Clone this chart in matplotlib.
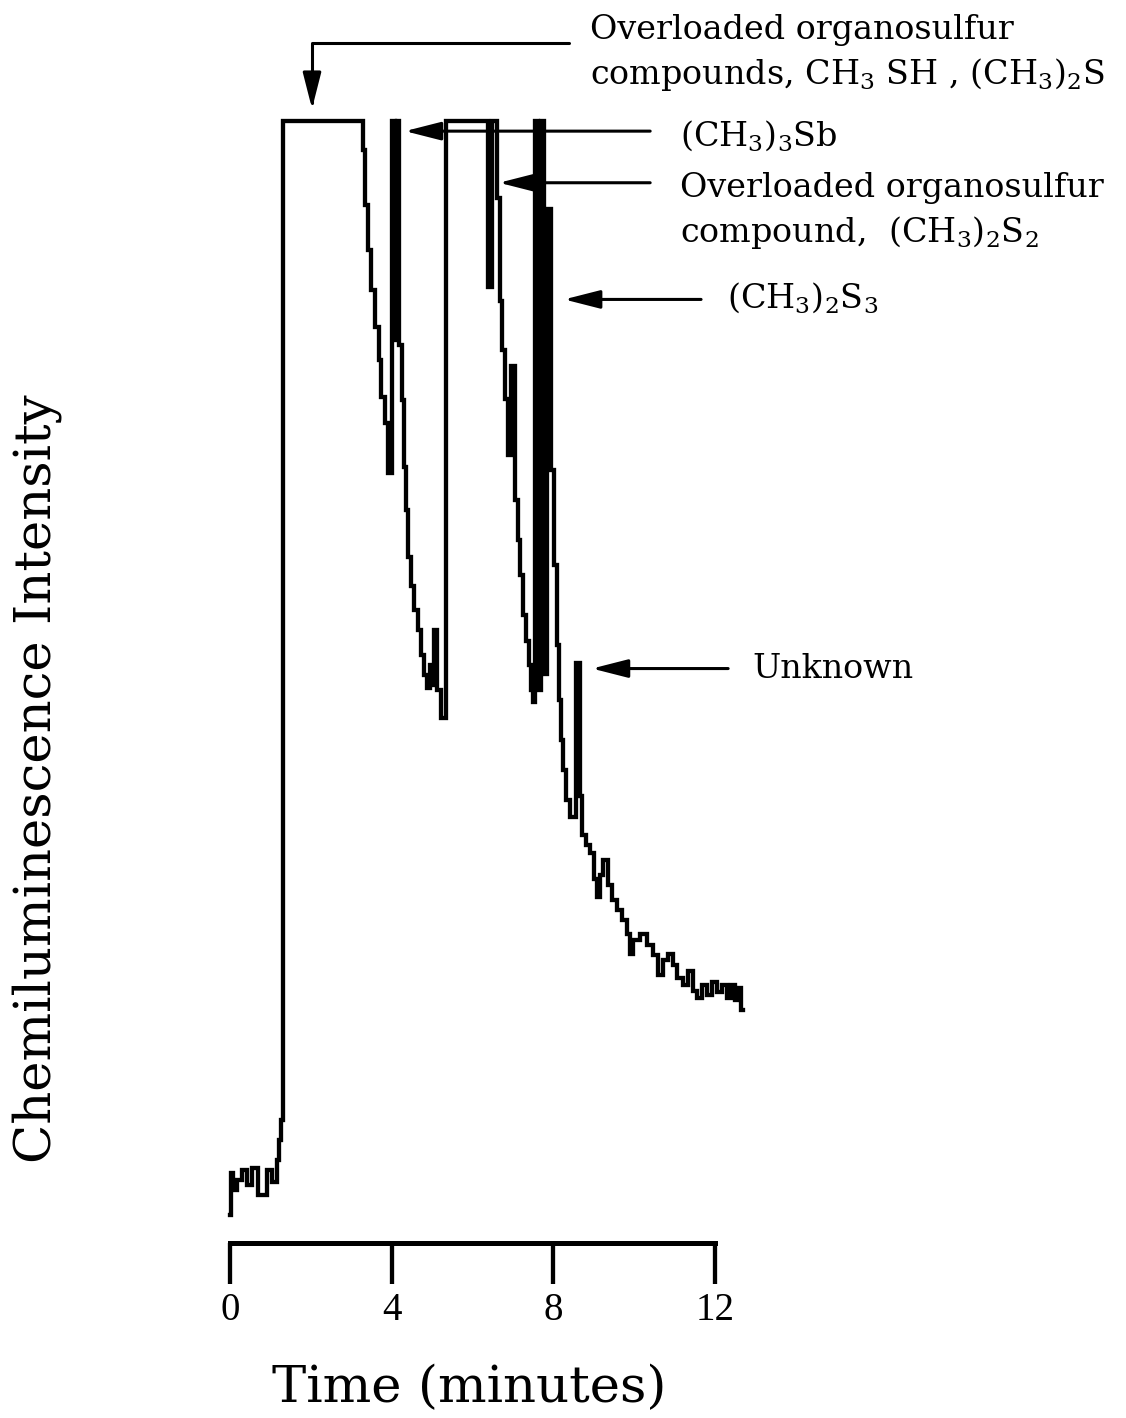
import matplotlib
matplotlib.use("Agg")
import matplotlib.pyplot as plt

plt.rcParams['font.family'] = ['DejaVu Serif']
plt.rcParams['mathtext.fontset'] = 'dejavuserif'

# recorder trace, drawn as steps (time in minutes, % of full scale)
time_min = [
    0.00, 0.02, 0.07, 0.17, 0.30, 0.42, 0.55, 0.69, 0.92, 1.04, 1.16, 1.21, 1.26, 1.31,
    3.29, 3.34, 3.42, 3.49, 3.59, 3.69, 3.74, 3.84, 3.91,
    4.01, 4.08, 4.13, 4.18, 4.26, 4.31, 4.36, 4.41, 4.48, 4.55, 4.65, 4.73, 4.80, 4.88,
    4.95, 5.00, 5.05, 5.12, 5.22,
    5.35, 6.39, 6.49, 6.61, 6.68, 6.73, 6.81, 6.88, 6.96, 7.05, 7.13, 7.18, 7.25, 7.33,
    7.40, 7.45, 7.50,
    7.55, 7.62, 7.70, 7.77, 7.85, 7.95, 8.02, 8.09, 8.14, 8.19, 8.24, 8.32, 8.42,
    8.56, 8.66, 8.71, 8.81, 8.91, 9.01, 9.08, 9.16, 9.23, 9.36, 9.46, 9.58, 9.70, 9.83,
    9.90, 9.98,
    10.15, 10.32, 10.47, 10.59, 10.72, 10.84, 10.97, 11.06, 11.21, 11.34, 11.46, 11.56,
    11.68, 11.81, 11.93,
    12.05, 12.18, 12.30, 12.40, 12.50, 12.60, 12.65, 12.70,
]
intensity = [
    2.5, 6.2, 4.7, 5.6, 6.5, 5.2, 6.7, 4.3, 6.5, 5.4, 7.4, 9.2, 11.0, 100.0,
    97.4, 92.5, 88.5, 84.9, 81.6, 78.7, 75.4, 73.1, 68.6,
    100.0, 80.5, 100.0, 80.0, 75.1, 69.2, 65.3, 61.1, 58.6, 56.4, 54.6, 52.4, 50.6, 49.5,
    51.5, 49.7, 54.6, 49.3, 46.8,
    100.0, 85.2, 100.0, 93.1, 84.0, 79.6, 75.2, 70.2, 78.2, 66.2, 62.7, 59.5, 56.0, 53.7,
    51.5, 49.3, 48.2,
    100.0, 49.3, 100.0, 50.7, 92.2, 68.9, 60.4, 53.3, 48.4, 44.8, 42.2, 39.5, 38.0,
    51.7, 39.8, 36.4, 35.5, 34.8, 32.4, 30.8, 32.8, 34.1, 31.9, 30.6, 29.7, 28.8, 27.5,
    25.8, 27.0,
    27.5, 26.6, 25.7, 23.9, 25.2, 25.8, 24.8, 23.6, 23.0, 24.2, 22.5, 21.8,
    23.0, 22.1, 23.3,
    22.4, 23.0, 21.8, 23.0, 21.7, 22.7, 20.8, 20.8,
]

x_ticks = [0, 4, 8, 12]

# peak labels: arrow tip, arrow tail, text lines (left, baseline)
peak_text = [
    ['(CH$_3$)$_3$Sb'],
    ['Overloaded organosulfur', 'compound,  (CH$_3$)$_2$S$_2$'],
    ['(CH$_3$)$_2$S$_3$'],
    ['Unknown'],
]
arrow_tip = [(4.33, 99.1), (6.66, 94.5), (8.27, 84.1), (8.96, 51.2)]
arrow_tail = [(10.40, 99.1), (10.40, 94.5), (11.66, 84.1), (12.33, 51.2)]
text_pos = [(11.14, [97.8]), (11.14, [93.2, 89.2]), (12.30, [83.4]), (12.92, [50.4])]

top_text = ['Overloaded organosulfur', 'compounds, CH$_3$ SH , (CH$_3$)$_2$S']
top_text_pos = (8.91, [107.3, 103.3])
top_tip = (2.03, 101.1)
top_tail = (8.39, 107.0)

fig = plt.figure(figsize=(11.26, 14.18), dpi=100)
ax = fig.add_axes([209.8 / 1126, 175 / 1418, 545.4 / 1126, 1144.4 / 1418])
ax.set_xlim(-0.5, 13.0)
ax.set_ylim(0, 102)
ax.patch.set_visible(False)

ax.plot(time_min, intensity, drawstyle='steps-post', color='black', lw=3.1,
        solid_joinstyle='miter')

for side in ['top', 'right', 'left']:
    ax.spines[side].set_visible(False)
ax.spines['bottom'].set_bounds(0, 12)
ax.spines['bottom'].set_linewidth(3.6)
ax.set_xticks(x_ticks)
ax.set_xticklabels([str(t) for t in x_ticks])
ax.set_yticks([])
ax.tick_params(axis='x', direction='out', length=29.5, width=3.1, pad=6, labelsize=28)
for lbl in ax.get_xticklabels():
    lbl.set_family('Liberation Serif')

ax.set_xlabel('Time (minutes)', fontsize=37, va='center')
ax.xaxis.set_label_coords(0.475, -0.127)
ax.set_ylabel('Chemiluminescence Intensity', fontsize=37, va='center')
ax.yaxis.set_label_coords(-0.317, 0.406)

arrow_style = dict(arrowstyle='-|>,head_length=0.55,head_width=0.14', mutation_scale=40,
                   lw=2.2, color='black', shrinkA=0, shrinkB=0)

ax.annotate('', xy=top_tip, xytext=top_tail, annotation_clip=False,
            arrowprops=dict(arrow_style, connectionstyle='angle,angleA=0,angleB=90,rad=0'))
for line, yb in zip(top_text, top_text_pos[1]):
    ax.text(top_text_pos[0], yb, line, fontsize=24, ha='left', va='baseline')

for lines, tip, tail, (tx, tys) in zip(peak_text, arrow_tip, arrow_tail, text_pos):
    ax.annotate('', xy=tip, xytext=tail, annotation_clip=False, arrowprops=arrow_style)
    for line, yb in zip(lines, tys):
        ax.text(tx, yb, line, fontsize=24, ha='left', va='baseline')

fig.savefig('out.png', dpi=100)
